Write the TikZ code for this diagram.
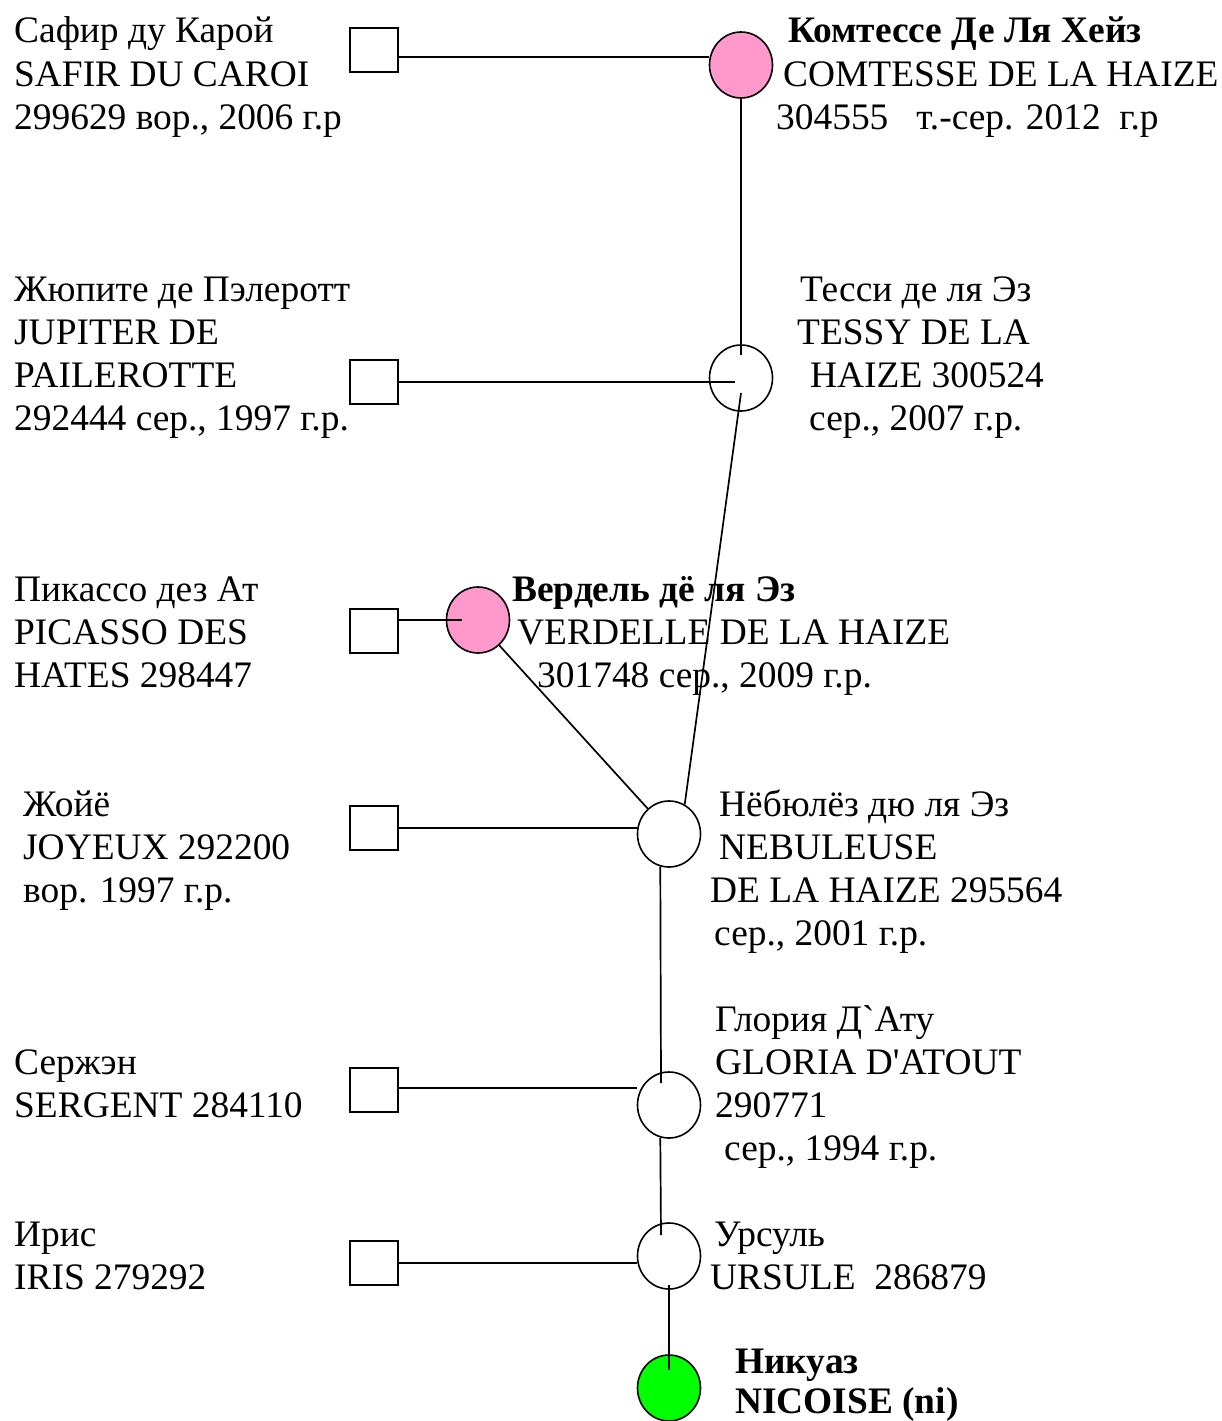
\documentclass[tikz,border=0pt]{standalone}
\usepackage{fontspec}
\newfontfamily\tnr{Liberation Serif}
\usetikzlibrary{shapes.geometric}
\definecolor{pinkf}{HTML}{FF99CC}
\definecolor{greenf}{HTML}{00FF00}
\begin{document}
\begin{tikzpicture}[x=1pt,y=-1pt,
  txt/.style={font=\tnr\fontsize{37.4}{43}\selectfont, inner sep=0pt, anchor=base west},
  btxt/.style={txt, font=\tnr\bfseries\fontsize{37.4}{43}\selectfont},
  sq/.style={draw, line width=1.6pt, minimum width=48pt, minimum height=44pt, inner sep=0pt},
  ind/.style={ellipse, draw, line width=1.6pt, minimum width=63pt, minimum height=66pt, inner sep=0pt},
  link/.style={line width=1.7pt}]
\useasboundingbox (0,0) rectangle (1222,1421);

% squares (sires)
\node[sq] (safirsq) at (374,50) {};
\node[sq] (jupsq) at (374,382) {};
\node[sq] (picsq) at (374,631) {};
\node[sq] (joysq) at (374,828) {};
\node[sq] (sergsq) at (374,1090) {};
\node[sq] (irissq) at (374,1263) {};

% circles (dams)
\node[ind, fill=pinkf] (comtesse) at (741,65) {};
\node[ind] (tessy) at (741,378) {};
\node[ind, fill=pinkf] (verdelle) at (478,620) {};
\node[ind] (neb) at (669,834) {};
\node[ind] (gloria) at (669,1105) {};
\node[ind] (ursule) at (669,1256) {};
\node[ind, fill=greenf] (nicoise) at (669,1388) {};

% left texts
\node[txt] (l1a) at (14,43) {Сафир ду Карой};
\node[txt] (l1b) at (14,86) {SAFIR DU CAROI};
\node[txt] (l1c) at (14,129) {299629 вор., 2006 г.р};

\node[txt] (l2a) at (14,301) {Жюпите де Пэлеротт};
\node[txt] (l2b) at (14,344) {JUPITER DE};
\node[txt] (l2c) at (14,387) {PAILEROTTE};
\node[txt] (l2d) at (14,430) {292444 сер., 1997 г.р.};

\node[txt] (l3a) at (14,601) {Пикассо дез Ат};
\node[txt] (l3b) at (14,644) {PICASSO DES};
\node[txt] (l3c) at (14,687) {HATES 298447};

\node[txt] (l4a) at (23,816) {Жойё};
\node[txt] (l4b) at (23,859) {JOYEUX 292200};
\node[txt] (l4c) at (23,902) {вор. 1997 г.р.};

\node[txt] (l5a) at (14,1074) {Сержэн};
\node[txt] (l5b) at (14,1117) {SERGENT 284110};

\node[txt] (l6a) at (14,1246) {Ирис};
\node[txt] (l6b) at (14,1289) {IRIS 279292};

% right texts
\node[btxt] (r1a) at (788,43) {Комтессе Де Ля Хейз};
\node[txt] (r1b) at (783,86) {COMTESSE DE LA HAIZE};
\node[txt] (r1c) at (776,129) {304555\ \ \ т.-сер. 2012\ \ г.р};

\node[txt] (r2a) at (800,301) {Тесси де ля Эз};
\node[txt] (r2b) at (797,344) {TESSY DE LA};
\node[txt] (r2c) at (810,387) {HAIZE 300524};
\node[txt] (r2d) at (809,430) {сер., 2007 г.р.};

\node[btxt] (r3a) at (512,601) {Вердель дё ля Эз};
\node[txt] (r3b) at (517,644) {VERDELLE DE LA HAIZE};
\node[txt] (r3c) at (537,687) {301748 сер., 2009 г.р.};

\node[txt] (r4a) at (719,816) {Нёбюлёз дю ля Эз};
\node[txt] (r4b) at (719,859) {NEBULEUSE};
\node[txt] (r4c) at (710,902) {DE LA HAIZE 295564};
\node[txt] (r4d) at (714,945) {сер., 2001 г.р.};

\node[txt] (r5a) at (715,1031) {Глория Д`Ату};
\node[txt] (r5b) at (715,1074) {GLORIA D'ATOUT};
\node[txt] (r5c) at (715,1117) {290771};
\node[txt] (r5d) at (724,1160) {сер., 1994 г.р.};

\node[txt] (r6a) at (714,1246) {Урсуль};
\node[txt] (r6b) at (710,1289) {URSULE\ \ 286879};

\node[btxt] (r7a) at (735,1373) {Никуаз};
\node[btxt] (r7b) at (735,1413) {NICOISE (ni)};

% connectors
\draw[link] ([yshift=-7pt]safirsq.east) -- ([yshift=8pt]comtesse.west);
\draw[link] (comtesse.south) -- ([yshift=23pt]tessy.center);
\draw[link] (jupsq.east) -- ([xshift=-6pt]tessy.center |- jupsq.east);
\draw[link] ([yshift=-15pt]tessy.center) -- (neb.62);
\draw[link] (picsq.east |- verdelle.center) -- ([xshift=-16pt]verdelle.center);
\draw[link] (verdelle.-50) -- (neb.130);
\draw[link] (joysq.east) -- (joysq.east -| neb.west);
\draw[link] (neb.-105) -- ([xshift=-8pt,yshift=22pt]gloria.center);
\draw[link] ([yshift=2pt]sergsq.east) -- ([yshift=17pt]gloria.west);
\draw[link] (gloria.-105) -- ([xshift=-8pt,yshift=21pt]ursule.center);
\draw[link] (irissq.east) -- (irissq.east -| ursule.west);
\draw[link] ([yshift=5pt]ursule.south) -- ([yshift=18pt]nicoise.center);
\end{tikzpicture}
\end{document}
